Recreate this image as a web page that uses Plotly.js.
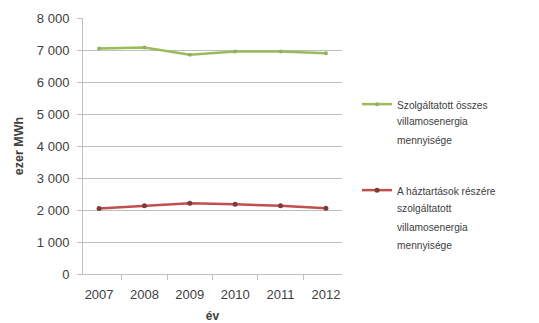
<!DOCTYPE html>
<html><head><meta charset="utf-8">
<script src="https://cdn.plot.ly/plotly-3.0.1.min.js"></script>
<style>html,body{margin:0;padding:0;background:#fff}#c{width:539px;height:323px}</style>
</head><body><div id="c"></div>
<script>
const years = ['2007','2008','2009','2010','2011','2012'];
const totalSupplied = [7050, 7080, 6850, 6950, 6950, 6900];
const householdSupplied = [2050, 2130, 2210, 2180, 2130, 2055];
const yTicks = [0,1000,2000,3000,4000,5000,6000,7000,8000];
const yTickLabels = ['0','1 000','2 000','3 000','4 000','5 000','6 000','7 000','8 000'];
const totalNameLines = ['Szolgáltatott összes','villamosenergia','mennyisége'];
const householdNameLines = ['A háztartások részére','szolgáltatott','villamosenergia','mennyisége'];

const fontFam = 'Liberation Sans, Arial, sans-serif';
const L = 83, R = 342, T = 18, B = 274, W = 539, H = 323;
const px2x = p => (p - L) / (R - L);
const px2y = p => (B - p) / (B - T);

const traces = [
  {x: years, y: totalSupplied, type:'scatter', mode:'lines+markers', name: totalNameLines[0], legendgroup:'a',
   line:{color:'#9BBB59', width:2.5}, marker:{color:'#94AE62', size:4, symbol:'circle'}},
  {x: years, y: householdSupplied, type:'scatter', mode:'lines+markers', name: householdNameLines[0], legendgroup:'b',
   line:{color:'#C0504D', width:2.5}, marker:{color:'#7F3B3A', size:5, symbol:'circle'}}
];

// continuation lines of the legend labels (Excel-style wrapped legend text)
const legendFont = {family:fontFam, size:10.2, color:'#404040'};
const annotations = [];
const lineGap = 18.5;
totalNameLines.slice(1).forEach((t,i) => annotations.push({text:t, xref:'paper', yref:'paper',
  x:px2x(395), y:px2y(103 + lineGap*(i+1)), xanchor:'left', yanchor:'middle', showarrow:false, font:legendFont}));
householdNameLines.slice(1).forEach((t,i) => annotations.push({text:t, xref:'paper', yref:'paper',
  x:px2x(395), y:px2y(190 + lineGap*(i+1)), xanchor:'left', yanchor:'middle', showarrow:false, font:legendFont}));

const layout = {
  width:W, height:H,
  margin:{l:L, r:W-R, t:T, b:H-B},
  paper_bgcolor:'#fff', plot_bgcolor:'#fff',
  font:{family:fontFam, size:11, color:'#595959'},
  showlegend:true,
  legend:{x:px2x(357), xanchor:'left', y:px2y(91), yanchor:'top', tracegroupgap:67, valign:'top',
    font:legendFont, bgcolor:'rgba(0,0,0,0)', itemwidth:30},
  annotations: annotations,
  xaxis:{type:'category', showgrid:false, showline:true, linecolor:'#BFBFBF', linewidth:1,
    ticks:'outside', ticklen:5, tickcolor:'#BFBFBF', tickson:'boundaries', ticklabelstandoff:8,
    tickfont:{size:13, color:'#404040'},
    title:{text:'<b>év</b>', font:{size:12, color:'#404040'}, standoff:12}},
  yaxis:{range:[0,8000], tickvals:yTicks, ticktext:yTickLabels, showgrid:true, gridcolor:'#BFBFBF', gridwidth:1,
    zeroline:false, showline:true, linecolor:'#BFBFBF', ticks:'outside', ticklen:5, tickcolor:'#BFBFBF', ticklabelstandoff:5,
    tickfont:{size:13, color:'#404040'},
    title:{text:'<b>ezer MWh</b>', font:{size:12.5, color:'#404040'}, standoff:10}}
};
Plotly.newPlot('c', traces, layout, {staticPlot:true, displayModeBar:false});
</script></body></html>
